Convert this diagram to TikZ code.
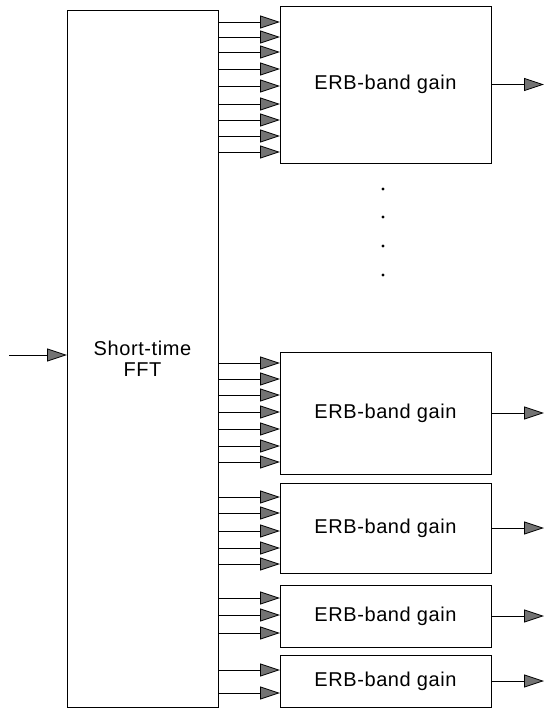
\documentclass[tikz,border=0pt]{standalone}
\usepackage{fontspec}
\setmainfont{Liberation Sans}[LetterSpace=3]
\usetikzlibrary{calc, arrows.meta, positioning}

\begin{document}
\begin{tikzpicture}[x=1pt, y=-1pt, line width=0.8pt,
    font=\fontsize{20}{21}\selectfont,
    blk/.style={draw, rectangle, inner sep=0pt, outer sep=0pt, align=center},
    arr/.style={-{Triangle[length=20pt, width=13pt, fill=black!55]}}]
\def\boxW{211}
\def\boxX{385.5}
\def\outLen{53}

    \useasboundingbox (0,0) rectangle (545,710);

    %FFT block and its input
    \node[blk, minimum width=151, minimum height=697] (fft) at (142.5,358.5) {Short-time\\FFT};
    \coordinate (in) at (9,355);
    \draw[arr] (in) -- (in -| fft.west);

    %Gain blocks
    \node[blk, minimum width=\boxW, minimum height=157] (gA) at (\boxX,84.5) {ERB-band gain};
    \node[blk, minimum width=\boxW, minimum height=122] (gB) at (\boxX,413) {ERB-band gain};
    \node[blk, minimum width=\boxW, minimum height=90] (gC) at (\boxX,528) {ERB-band gain};
    \node[blk, minimum width=\boxW, minimum height=62] (gD) at (\boxX,616) {ERB-band gain};
    \node[blk, minimum width=\boxW, minimum height=52] (gE) at (\boxX,681) {ERB-band gain};

    %Bins into each block
    \foreach \y in {22,37,52,69,86,104,120,136,152}
        \draw[arr] (fft.east |- 0,\y) -- (gA.west |- 0,\y);
    \foreach \y in {363,379,395,412,429,446,462}
        \draw[arr] (fft.east |- 0,\y) -- (gB.west |- 0,\y);
    \foreach \y in {497,513,531,548,564}
        \draw[arr] (fft.east |- 0,\y) -- (gC.west |- 0,\y);
    \foreach \y in {598,615,633}
        \draw[arr] (fft.east |- 0,\y) -- (gD.west |- 0,\y);
    \foreach \y in {670,693}
        \draw[arr] (fft.east |- 0,\y) -- (gE.west |- 0,\y);

    %Outputs
    \foreach \n in {gA,gB,gC,gD,gE}
        \draw[arr] (\n.east) -- ++(\outLen,0) coordinate (\n-out);

    %Dots
    \foreach \y in {189,217,246,275}
        \fill (383,\y) circle (1.7);
\end{tikzpicture}
\end{document}
